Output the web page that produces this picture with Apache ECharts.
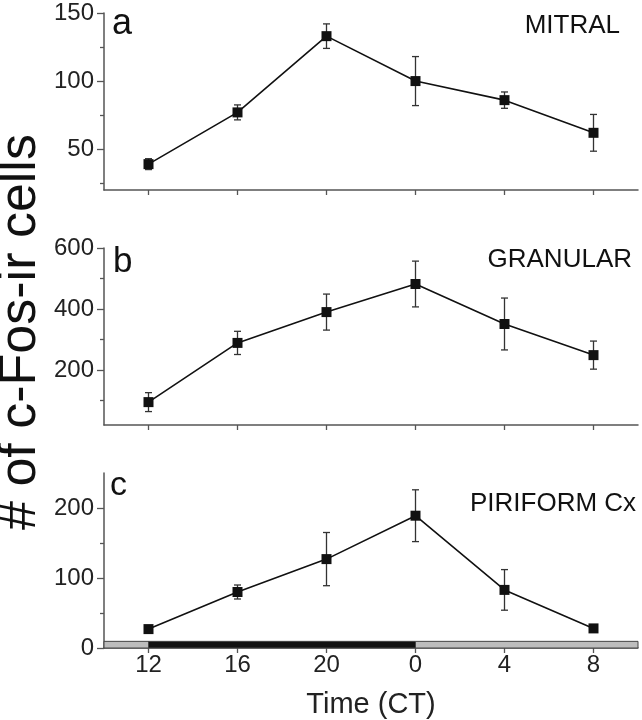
<!DOCTYPE html>
<html><head><meta charset="utf-8">
<script src="https://cdn.jsdelivr.net/npm/echarts@6/dist/echarts.min.js"></script>
<style>html,body{margin:0;padding:0;background:#fff}#c{width:642px;height:720px}</style>
</head><body><div id="c"></div>
<script>
// ---- data ----
const times = [12, 16, 20, 24, 28, 32];
const xTickLabels = ['12', '16', '20', '0', '4', '8'];
const mitral = [39, 77, 133, 100, 86, 62];
const mitralErr = [4, 5.5, 9, 18, 6, 13.5];
const granular = [95, 289, 390, 482, 351, 249];
const granularErr = [31, 38, 59, 75, 85, 46];
const piriform = [27, 80, 127, 189, 83, 28];
const piriformErr = [5, 10, 38, 37, 29, 4];
const yTicksA = [50, 100, 150], yMinorA = [25, 75, 125];
const yTicksB = [200, 400, 600], yMinorB = [100, 300, 500];
const yTicksC = [0, 100, 200], yMinorC = [50, 150];
const panelNames = ['MITRAL', 'GRANULAR', 'PIRIFORM Cx'];
const panelLetters = ['a', 'b', 'c'];
const lightDark = [[10, 12, 'light'], [12, 24, 'dark'], [24, 34, 'light']];

const FONT = 'Liberation Sans, Arial, sans-serif';
const AX = '#555';
const chart = echarts.init(document.getElementById('c'), null, {renderer: 'canvas'});

const panels = [
  {vals: mitral, errs: mitralErr, min: 20, max: 150, major: yTicksA, minor: yMinorA, top: 13},
  {vals: granular, errs: granularErr, min: 20, max: 600, major: yTicksB, minor: yMinorB, top: 248},
  {vals: piriform, errs: piriformErr, min: 0, max: 250, major: yTicksC, minor: yMinorC, top: 473}
];

const grid = [], xAxis = [], yAxis = [], series = [];
panels.forEach((p, i) => {
  const last = i === panels.length - 1;
  grid.push({left: 104, right: 4, top: p.top, height: 177});
  xAxis.push({
    type: 'value', gridIndex: i, min: 10, max: 34,
    axisLine: {show: true, lineStyle: {color: AX, width: 1.5}},
    axisTick: {show: true, customValues: times, length: 5, lineStyle: {color: AX, width: 1.3}},
    axisLabel: {show: last, customValues: times, margin: 5, fontSize: 24, fontFamily: FONT, color: '#222',
      formatter: v => xTickLabels[times.indexOf(v)]},
    splitLine: {show: false},
    name: last ? 'Time (CT)' : '', nameLocation: 'middle', nameGap: 42,
    nameTextStyle: {fontSize: 29, fontFamily: FONT, color: '#222'}
  });
  yAxis.push({
    type: 'value', gridIndex: i, min: p.min, max: p.max, position: 'left',
    axisLine: {show: true, lineStyle: {color: AX, width: 1.5}},
    axisTick: {show: true, customValues: p.major, length: 7, lineStyle: {color: AX, width: 1.3}},
    axisLabel: {show: true, customValues: p.major, margin: 10, fontSize: 24, fontFamily: FONT, color: '#222'},
    splitLine: {show: false}
  });
  yAxis.push({
    type: 'value', gridIndex: i, min: p.min, max: p.max, position: 'left', offset: 0,
    axisLine: {show: false},
    axisTick: {show: true, customValues: p.minor, length: 4, lineStyle: {color: AX, width: 1.3}},
    axisLabel: {show: false},
    splitLine: {show: false}
  });
  const errData = times.map((t, k) => [t, p.vals[k], p.errs[k]]);
  series.push({
    type: 'custom', xAxisIndex: i, yAxisIndex: 2 * i, z: 2, silent: true,
    data: errData,
    renderItem: (params, api) => {
      const x = api.value(0), y = api.value(1), e = api.value(2);
      const hi = api.coord([x, y + e]), lo = api.coord([x, y - e]);
      const w = 3.5;
      const st = {stroke: '#333', lineWidth: 1.3};
      return {type: 'group', children: [
        {type: 'line', shape: {x1: hi[0], y1: hi[1], x2: lo[0], y2: lo[1]}, style: st},
        {type: 'line', shape: {x1: hi[0] - w, y1: hi[1], x2: hi[0] + w, y2: hi[1]}, style: st},
        {type: 'line', shape: {x1: lo[0] - w, y1: lo[1], x2: lo[0] + w, y2: lo[1]}, style: st}
      ]};
    }
  });
  const s = {
    type: 'line', xAxisIndex: i, yAxisIndex: 2 * i, z: 3, silent: true,
    data: times.map((t, k) => [t, p.vals[k]]),
    symbol: 'rect', symbolSize: 10, showSymbol: true,
    itemStyle: {color: '#111'}, lineStyle: {color: '#111', width: 1.6},
    emphasis: {disabled: true}, animation: false
  };
  if (last) {
    s.markArea = {
      silent: true, z: 1,
      data: lightDark.map(([a, b, k]) => [
        {coord: [a, 0], itemStyle: {color: k === 'dark' ? '#111' : '#bdbdbd', borderColor: '#444', borderWidth: 1}},
        {coord: [b, 9.5]}
      ])
    };
  }
  series.push(s);
});

const graphic = [];
const letterPos = [[112, 24, 36], [113, 262, 35], [110, 486, 34]];
panelLetters.forEach((l, i) => {
  graphic.push({type: 'text', left: letterPos[i][0], top: letterPos[i][1] - letterPos[i][2] / 2, silent: true,
    style: {text: l, font: letterPos[i][2] + 'px ' + FONT, fill: '#111'}});
});
const namePos = [[620, 26, 'right'], [632, 260, 'right'], [470, 504, 'left']];
panelNames.forEach((n, i) => {
  graphic.push({type: 'text', x: namePos[i][0], y: namePos[i][1], silent: true,
    style: {text: n, font: '26px ' + FONT, fill: '#111', align: namePos[i][2], verticalAlign: 'middle'}});
});
graphic.push({type: 'text', x: 21, y: 332, rotation: Math.PI / 2, silent: true,
  style: {text: '# of c-Fos-ir cells', font: '52px ' + FONT, fill: '#111', align: 'center', verticalAlign: 'middle'}});

chart.setOption({animation: false, grid, xAxis, yAxis, series, graphic});
</script></body></html>
